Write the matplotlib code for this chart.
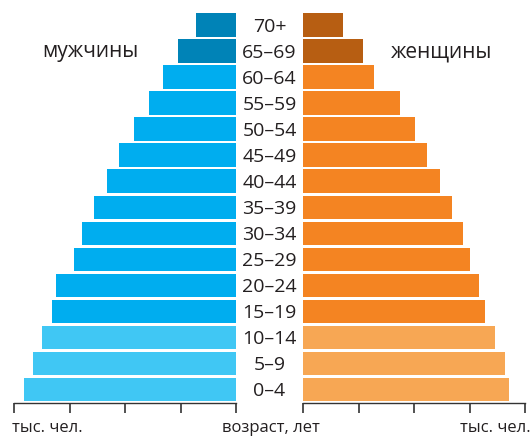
import matplotlib
matplotlib.use('Agg')
import matplotlib.pyplot as plt

plt.rcParams['font.family'] = ['Open Sans', 'DejaVu Sans']

# age groups, bottom to top
ages = ['0–4', '5–9', '10–14', '15–19', '20–24', '25–29', '30–34', '35–39',
        '40–44', '45–49', '50–54', '55–59', '60–64', '65–69', '70+']
# thousand people (axis 0..200, ticks every 50)
men = [191, 183, 175, 166, 162, 146, 139, 128, 116, 105, 92, 78, 66, 52, 36]
women = [186, 182, 173, 164, 159, 150, 144, 134, 123, 112, 101, 87, 64, 54, 36]
groups = [0, 0, 0, 1, 1, 1, 1, 1, 1, 1, 1, 1, 1, 2, 2]  # children / working / old

men_colors = ['#40c7f4', '#00adef', '#0083b7']
women_colors = ['#f7a754', '#f48422', '#b75e12']
text_color = '#231f20'

fig = plt.figure(figsize=(5.32, 4.36), dpi=100)
bottom = 1 - 403 / 436
height = (403 - 12) / 436
ax_l = fig.add_axes([14 / 532, bottom, 222 / 532, height])
ax_r = fig.add_axes([303 / 532, bottom, 222 / 532, height])

y = list(range(len(ages)))
ax_l.barh(y, men, height=0.9, color=[men_colors[g] for g in groups])
ax_r.barh(y, women, height=0.9, color=[women_colors[g] for g in groups])

for ax in (ax_l, ax_r):
    ax.set_ylim(-0.52, 14.5)
    ax.set_xticks([0, 50, 100, 150, 200])
    ax.set_xticklabels([])
    ax.set_yticks([])
    for s in ('top', 'left', 'right'):
        ax.spines[s].set_visible(False)
    ax.spines['bottom'].set_color('#333333')
    ax.spines['bottom'].set_linewidth(1.0)
    ax.tick_params(axis='x', direction='out', length=7, width=1.2, color='#333333')
ax_l.set_xlim(200, 0)
ax_r.set_xlim(0, 200)

# age labels between the halves
xc = (269.5 - 303) / 222
for yi, lab in zip(y, ages):
    ax_r.text(xc, yi - 0.27, lab, transform=ax_r.get_yaxis_transform(),
              ha='center', va='baseline', fontsize=14, color=text_color, clip_on=False)

fig.text(90 / 532, 1 - 57 / 436, 'мужчины', ha='center', va='baseline', fontsize=15, color=text_color)
fig.text(442 / 532, 1 - 57 / 436, 'женщины', ha='center', va='baseline', fontsize=15, color=text_color)

fig.text(12 / 532, 4 / 436, 'тыс. чел.', ha='left', va='baseline', fontsize=12, color=text_color)
fig.text(271 / 532, 4 / 436, 'возраст, лет', ha='center', va='baseline', fontsize=12, color=text_color)
fig.text(531 / 532, 4 / 436, 'тыс. чел.', ha='right', va='baseline', fontsize=12, color=text_color)

fig.savefig('out.png', dpi=100)
